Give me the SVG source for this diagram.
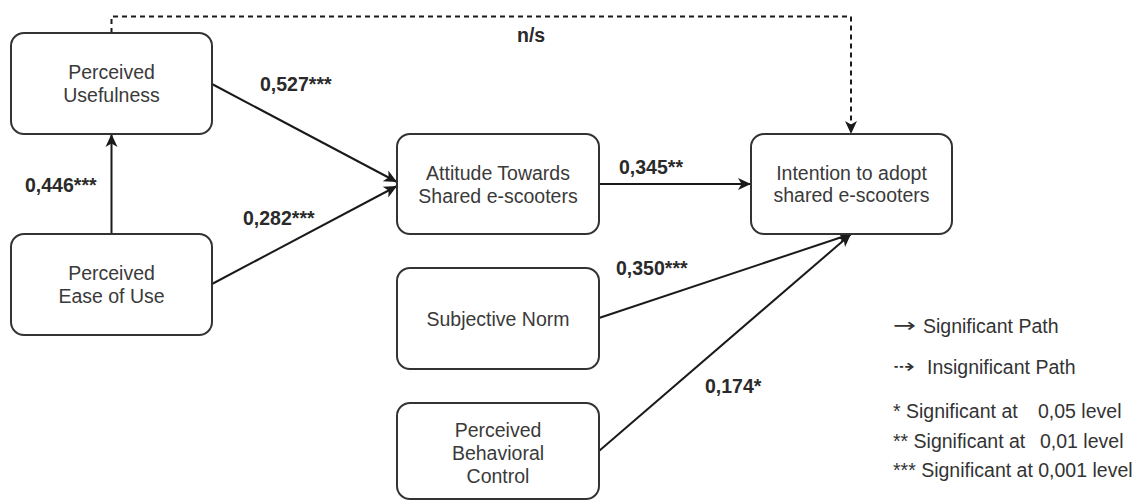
<svg xmlns="http://www.w3.org/2000/svg" width="1148" height="501" viewBox="0 0 1148 501">
<style>
  .box { fill: #ffffff; stroke: #333333; stroke-width: 2; }
  .t { font-family: "Liberation Sans", Arial, sans-serif; font-size: 19.5px; fill: #3a3a3a; text-anchor: middle; }
  .lbl { font-family: "Liberation Sans", Arial, sans-serif; font-size: 19.5px; font-weight: bold; fill: #2a2a2a; }
  .leg { font-family: "Liberation Sans", Arial, sans-serif; font-size: 19.5px; fill: #333333; }
  .sym { font-family: "DejaVu Sans", sans-serif; font-size: 19.5px; fill: #333333; }
  .edge { fill: none; stroke: #1a1a1a; stroke-width: 2; }
  .dash { stroke-dasharray: 5 4; }
</style>
<defs>
  <marker id="arr" markerUnits="userSpaceOnUse" markerWidth="14" markerHeight="12" refX="13" refY="6" orient="auto" overflow="visible">
    <path d="M0,0 L13,6 L0,12 L3.5,6 Z" fill="#1a1a1a" stroke="none"/>
  </marker>
</defs>
<rect width="1148" height="501" fill="#ffffff"/>

<g id="connectors">
  <path class="edge dash" d="M111.5,33 V16.5 H851 V134" marker-end="url(#arr)"/>
  <path class="edge" d="M111.5,234 V134" marker-end="url(#arr)"/>
  <path class="edge" d="M212,84 L397,182" marker-end="url(#arr)"/>
  <path class="edge" d="M212,284 L397,186" marker-end="url(#arr)"/>
  <path class="edge" d="M599,184 L751,184" marker-end="url(#arr)"/>
  <path class="edge" d="M599,318 L851,234" marker-end="url(#arr)"/>
  <path class="edge" d="M599,451 L851,234" marker-end="url(#arr)"/>
</g>

<g id="edge-labels">
  <text class="lbl" x="517" y="42">n/s</text>
  <text class="lbl" x="260" y="91">0,527***</text>
  <text class="lbl" x="25" y="192">0,446***</text>
  <text class="lbl" x="243" y="225">0,282***</text>
  <text class="lbl" x="619" y="174">0,345**</text>
  <text class="lbl" x="616" y="275">0,350***</text>
  <text class="lbl" x="705" y="393">0,174*</text>
</g>

<g id="node-pu">
  <rect class="box" x="11" y="33" width="201" height="101" rx="13"/>
  <text class="t" x="111.5" y="79">Perceived</text>
  <text class="t" x="111.5" y="102">Usefulness</text>
</g>
<g id="node-peu">
  <rect class="box" x="11" y="234" width="201" height="101" rx="13"/>
  <text class="t" x="111.5" y="280">Perceived</text>
  <text class="t" x="111.5" y="303">Ease of Use</text>
</g>
<g id="node-att">
  <rect class="box" x="397" y="134" width="202" height="100" rx="13"/>
  <text class="t" x="498" y="180">Attitude Towards</text>
  <text class="t" x="498" y="203">Shared e-scooters</text>
</g>
<g id="node-int">
  <rect class="box" x="751" y="134" width="201" height="100" rx="13"/>
  <text class="t" x="851.5" y="180">Intention to adopt</text>
  <text class="t" x="851.5" y="202">shared e-scooters</text>
</g>
<g id="node-sn">
  <rect class="box" x="397" y="268" width="202" height="101" rx="13"/>
  <text class="t" x="498" y="326">Subjective Norm</text>
</g>
<g id="node-pbc">
  <rect class="box" x="397" y="403" width="202" height="96" rx="13"/>
  <text class="t" x="498" y="437">Perceived</text>
  <text class="t" x="498" y="460">Behavioral</text>
  <text class="t" x="498" y="483">Control</text>
</g>

<g id="legend">
  <text class="sym" x="893" y="332" textLength="23" lengthAdjust="spacingAndGlyphs">→</text>
  <text class="leg" x="923" y="333">Significant Path</text>
  <text class="sym" x="893" y="373" textLength="22" lengthAdjust="spacingAndGlyphs">⇢</text>
  <text class="leg" x="927" y="374">Insignificant Path</text>
  <text class="leg" x="893" y="418">* Significant at</text>
  <text class="leg" x="1038" y="418">0,05 level</text>
  <text class="leg" x="893" y="448">** Significant at</text>
  <text class="leg" x="1040" y="448">0,01 level</text>
  <text class="leg" x="893" y="477">*** Significant at 0,001 level</text>
</g>
</svg>
